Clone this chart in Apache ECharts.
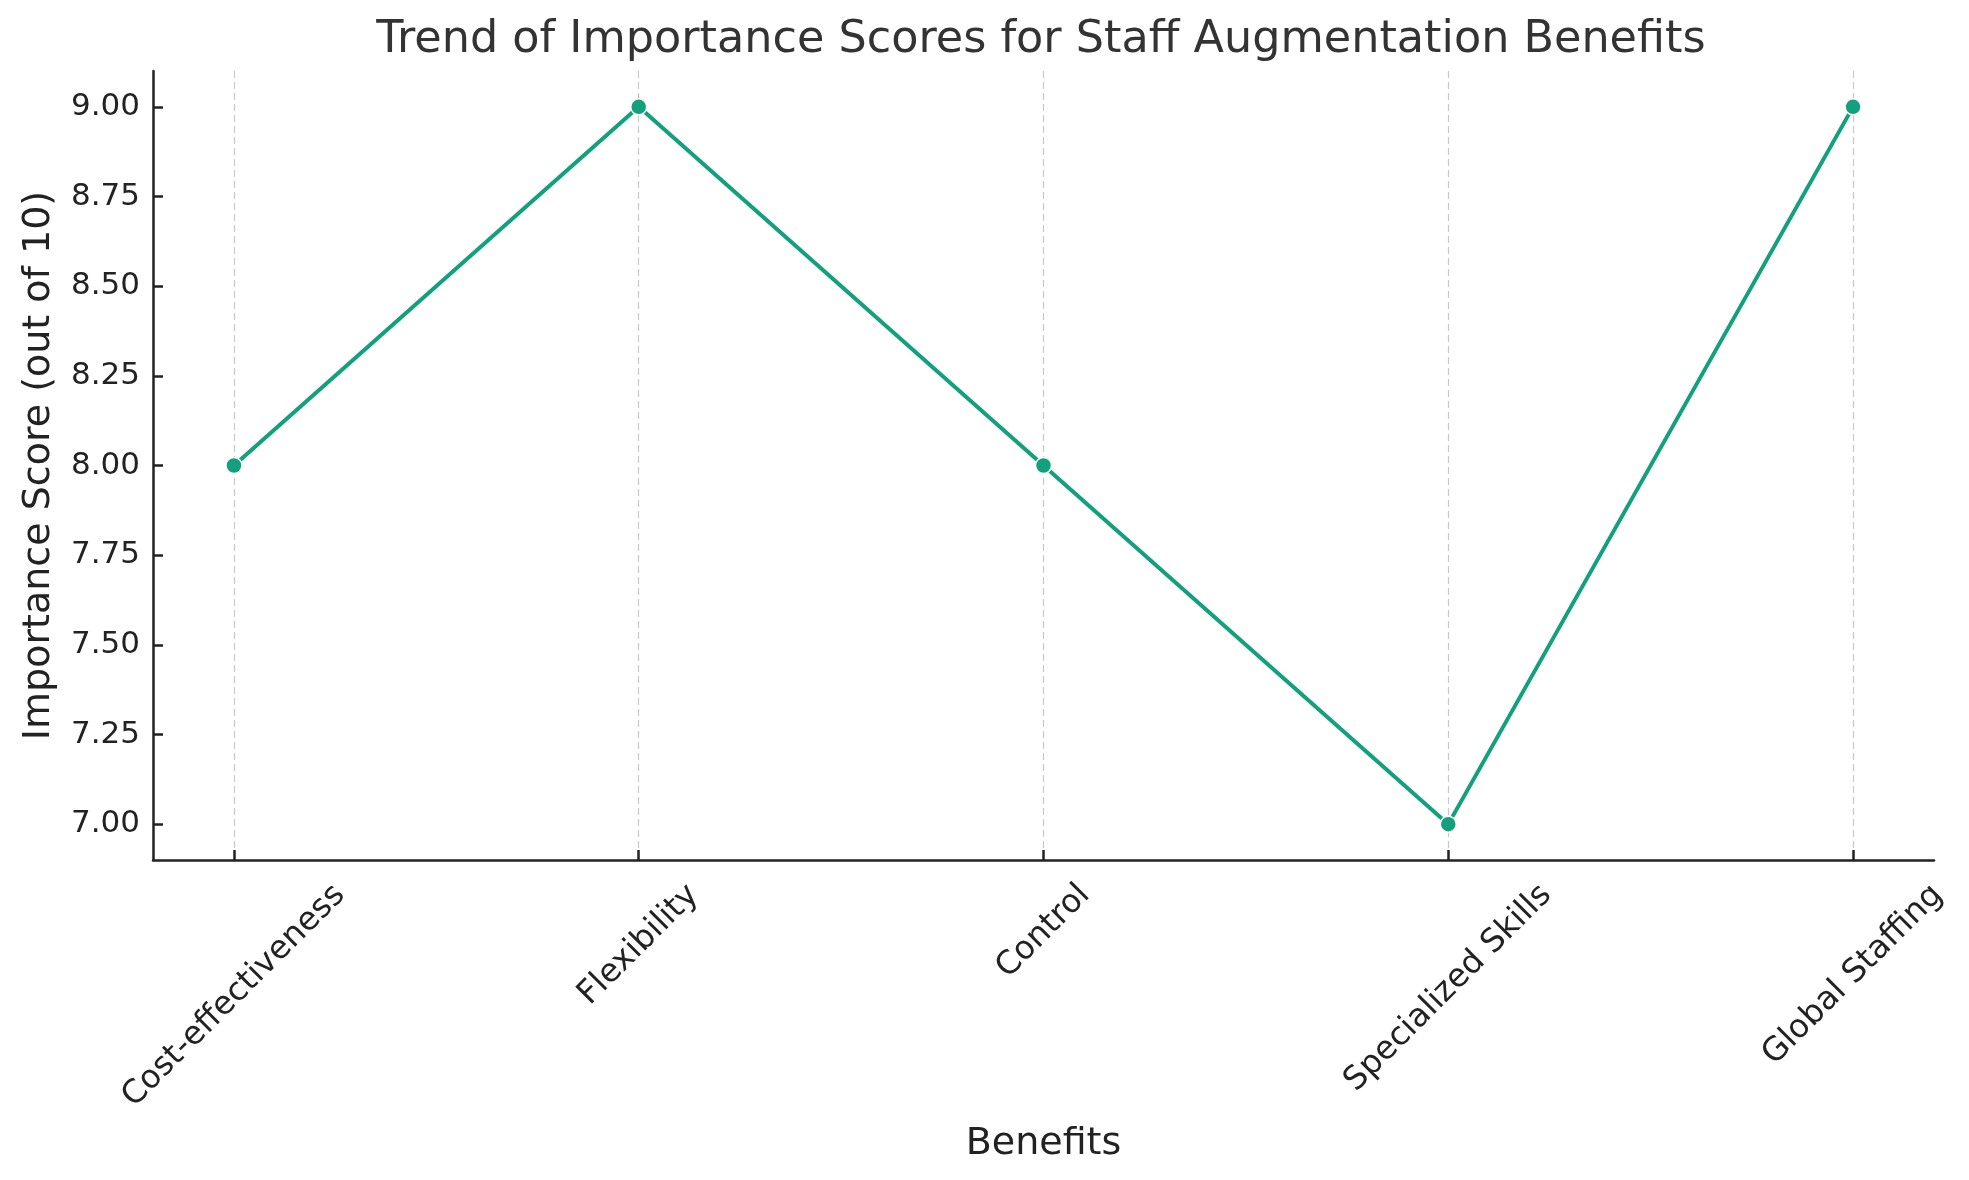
<!DOCTYPE html>
<html>
<head>
<meta charset="utf-8">
<title>Trend of Importance Scores</title>
<script src="https://cdn.jsdelivr.net/npm/echarts@6/dist/echarts.min.js"></script>
<style>
    html, body { margin: 0; padding: 0; background: #fff; }
    #chart { width: 1969px; height: 1180px; }
</style>
</head>
<body>
<div id="chart"></div>
<script>
var benefits = ['Cost-effectiveness', 'Flexibility', 'Control', 'Specialized Skills', 'Global Staffing'];
var scores = [8, 9, 8, 7, 9];
var yTicks = [7.00, 7.25, 7.50, 7.75, 8.00, 8.25, 8.50, 8.75, 9.00];
var xTicks = [0, 1, 2, 3, 4];

var FONT = '"DejaVu Sans", sans-serif';
var labelSize = 32.5;
var labelLine = 37;

// matplotlib centres rotated tick labels under the tick; pad each label so ECharts does the same
var canvas = document.createElement('canvas');
var ctx = canvas.getContext('2d');
ctx.font = labelSize + 'px ' + FONT;
var rich = {};
benefits.forEach(function (name, i) {
    var w = ctx.measureText(name).width;
    var p = 0.5 * (w + labelLine);
    rich['c' + i] = {
        fontSize: labelSize,
        fontFamily: FONT,
        color: '#222',
        lineHeight: labelLine,
        padding: [p, p, 0, 0]
    };
});

var myChart = echarts.init(document.getElementById('chart'));
var option = {
    backgroundColor: '#fff',
    animation: false,
    title: {
        text: 'Trend of Importance Scores for Staff Augmentation Benefits',
        left: 1036,
        textAlign: 'center',
        top: 13,
        textStyle: {
            fontSize: 44.5,
            fontWeight: 'normal',
            color: '#333',
            fontFamily: FONT
        }
    },
    grid: {
        left: 153,
        right: 35,
        top: 71,
        bottom: 320,
        containLabel: false,
        outerBoundsMode: 'none'
    },
    xAxis: {
        type: 'value',
        min: -0.2,
        max: 4.2,
        name: 'Benefits',
        nameLocation: 'middle',
        nameGap: 265,
        nameTextStyle: { fontSize: 38, color: '#222', fontFamily: FONT },
        axisLine: { show: true, onZero: false, lineStyle: { color: '#222', width: 2.5 } },
        axisTick: {
            show: true,
            inside: true,
            length: 10,
            customValues: xTicks,
            lineStyle: { color: '#222', width: 2.5 }
        },
        axisLabel: {
            customValues: xTicks,
            rotate: 45,
            align: 'center',
            verticalAlign: 'middle',
            margin: 17,
            formatter: function (v) {
                var i = Math.round(v);
                return '{c' + i + '|' + benefits[i] + '}';
            },
            rich: rich
        },
        splitLine: {
            show: true,
            lineStyle: { color: '#c8c8c8', width: 1.2, type: [7, 4] }
        }
    },
    yAxis: {
        type: 'value',
        min: 6.9,
        max: 9.1,
        name: 'Importance Score (out of 10)',
        nameLocation: 'middle',
        nameGap: 95,
        nameRotate: 90,
        nameTextStyle: { fontSize: 38, color: '#222', fontFamily: FONT },
        axisLine: { show: true, onZero: false, lineStyle: { color: '#222', width: 2.5 } },
        axisTick: {
            show: true,
            inside: true,
            length: 10,
            customValues: yTicks,
            lineStyle: { color: '#222', width: 2.5 }
        },
        axisLabel: {
            customValues: yTicks,
            margin: 13,
            fontSize: 31,
            color: '#222',
            fontFamily: FONT,
            formatter: function (v) { return v.toFixed(2); }
        },
        splitLine: { show: false }
    },
    series: [{
        type: 'line',
        data: scores.map(function (s, i) { return [xTicks[i], s]; }),
        symbol: 'circle',
        symbolSize: 16,
        lineStyle: { color: '#13a07c', width: 4 },
        itemStyle: { color: '#13a07c', borderColor: '#fff', borderWidth: 1.5 }
    }]
};
myChart.setOption(option);
</script>
</body>
</html>
